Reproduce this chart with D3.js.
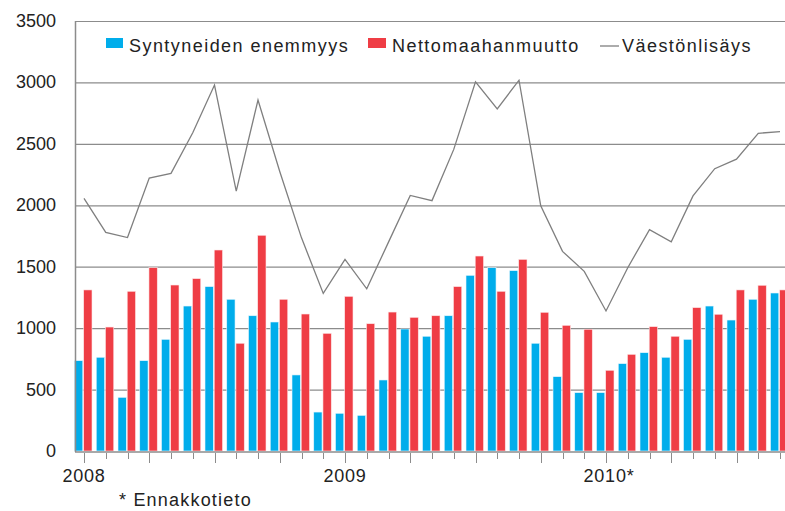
<!DOCTYPE html>
<html><head><meta charset="utf-8">
<script src="https://cdn.jsdelivr.net/npm/d3@7"></script>
<style>
html,body{margin:0;padding:0;background:#fff;}
svg{display:block;font-family:"Liberation Sans",Arial,sans-serif;}
</style></head>
<body>
<svg id="chart" width="785" height="511"></svg>
<script>
const months = d3.range(33).map(i => i); // Jan 2008 .. Sep 2010
const yearLabels = ["2008", "2009", "2010*"];
const yTicks = [0, 500, 1000, 1500, 2000, 2500, 3000, 3500];
const seriesNames = ["Syntyneiden enemmyys", "Nettomaahanmuutto", "Väestönlisäys"];
const births = [735, 763, 437, 735, 909, 1180, 1338, 1235, 1101, 1050, 619, 317,
                307, 290, 578, 993, 934, 1101, 1430, 1492, 1468, 877, 605, 475,
                475, 711, 800, 763, 909, 1180, 1066, 1235, 1286];
const migration = [1311, 1009, 1300, 1492, 1351, 1403, 1636, 877, 1756, 1235, 1115, 958,
                   1259, 1036, 1131, 1088, 1101, 1338, 1587, 1300, 1560, 1129, 1023, 991,
                   657, 787, 1012, 934, 1167, 1113, 1311, 1349, 1311];
const growth = [2057, 1780, 1737, 2222, 2260, 2590, 2979, 2116, 2857, 2275, 1735, 1283,
                1560, 1320, 1700, 2080, 2038, 2455, 3005, 2785, 3018, 1995, 1625, 1462,
                1140, 1492, 1802, 1702, 2076, 2298, 2376, 2586, 2599];

const svg = d3.select("#chart");
const pLeft = 75, pTop = 21, pBottom = 451, pRight = 785;
const blue = "#00adeb", red = "#ef3d45", grid = "#8c8c8c";

const x = d3.scaleBand().domain(months).range([73.125, 73.125 + 33 * 21.75]).padding(0);
const xSub = d3.scaleBand().domain(["b", "m"]).range([-9.5, 8]).paddingInner(0.1);
const y = d3.scaleLinear().domain([0, 3500]).range([pBottom, pTop]);
const cx = i => x(i) + x.bandwidth() / 2;

// gridlines
svg.append("g").selectAll("line").data(yTicks.filter(d => d > 0)).join("line")
  .attr("x1", pLeft).attr("x2", pRight + 10)
  .attr("y1", d => y(d) + 0.5).attr("y2", d => y(d) + 0.5)
  .attr("stroke", grid).attr("stroke-width", 1.2);

// y labels
svg.append("g").selectAll("text").data(yTicks).join("text")
  .attr("x", 56).attr("y", d => y(d) + 6)
  .attr("text-anchor", "end").attr("font-size", 18).attr("fill", "#222")
  .text(d => d);

// bars
const gBars = svg.append("g");
gBars.selectAll("rect.b").data(births).join("rect").attr("class", "b")
  .attr("x", (d, i) => cx(i) + xSub("b")).attr("width", xSub.bandwidth())
  .attr("y", d => y(d)).attr("height", d => pBottom - y(d))
  .attr("fill", blue).attr("stroke", "#e6f6fd").attr("stroke-width", 0.6);
gBars.selectAll("rect.m").data(migration).join("rect").attr("class", "m")
  .attr("x", (d, i) => cx(i) + xSub("m")).attr("width", xSub.bandwidth())
  .attr("y", d => y(d)).attr("height", d => pBottom - y(d))
  .attr("fill", red).attr("stroke", "#fde6e7").attr("stroke-width", 0.6);

// line
svg.append("path").datum(growth)
  .attr("d", d3.line().x((d, i) => cx(i)).y(d => y(d)))
  .attr("fill", "none").attr("stroke", "#7f7f7f").attr("stroke-width", 1.3);

// axes lines
svg.append("line").attr("x1", pLeft + 0.5).attr("x2", pLeft + 0.5).attr("y1", pTop).attr("y2", pBottom + 1)
  .attr("stroke", grid).attr("stroke-width", 1.5);
svg.append("line").attr("x1", pLeft).attr("x2", pRight + 10).attr("y1", pBottom + 1).attr("y2", pBottom + 1)
  .attr("stroke", grid).attr("stroke-width", 1.5);

// x ticks
svg.append("g").selectAll("line").data(months).join("line")
  .attr("x1", i => Math.round(cx(i)) + 0.5).attr("x2", i => Math.round(cx(i)) + 0.5)
  .attr("y1", pBottom + 2).attr("y2", i => pBottom + (i % 3 === 0 ? 12 : 8))
  .attr("stroke", grid).attr("stroke-width", 1);

// year labels
svg.append("g").selectAll("text").data(yearLabels).join("text")
  .attr("x", (d, k) => cx(k * 12) + (k === 2 ? 3 : 0)).attr("y", 482)
  .attr("text-anchor", "middle").attr("font-size", 18).attr("letter-spacing", 0.8).attr("fill", "#222")
  .text(d => d);
svg.append("text").attr("x", 119).attr("y", 506).attr("font-size", 18).attr("letter-spacing", 1.2).attr("fill", "#222")
  .text("* Ennakkotieto");

// legend
const lg = svg.append("g").attr("font-size", 18).attr("letter-spacing", 1.45).attr("fill", "#222");
lg.append("rect").attr("x", 106).attr("y", 38).attr("width", 17).attr("height", 10).attr("fill", blue);
lg.append("text").attr("x", 129).attr("y", 52).text(seriesNames[0]);
lg.append("rect").attr("x", 368).attr("y", 38).attr("width", 18).attr("height", 10).attr("fill", red);
lg.append("text").attr("x", 392).attr("y", 52).text(seriesNames[1]);
lg.append("line").attr("x1", 600).attr("x2", 619).attr("y1", 46).attr("y2", 46).attr("stroke", "#7f7f7f").attr("stroke-width", 1.3);
lg.append("text").attr("x", 622).attr("y", 52).text(seriesNames[2]);
</script>
</body></html>
